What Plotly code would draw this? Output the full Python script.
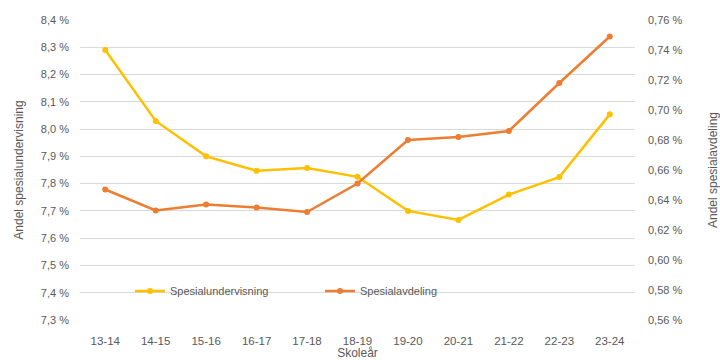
import plotly.graph_objects as go

categories = ["13-14", "14-15", "15-16", "16-17", "17-18", "18-19", "19-20", "20-21", "21-22", "22-23", "23-24"]
spesialundervisning = [8.29, 8.03, 7.90, 7.847, 7.857, 7.825, 7.70, 7.667, 7.76, 7.824, 8.054]
spesialavdeling = [0.647, 0.633, 0.637, 0.635, 0.632, 0.651, 0.680, 0.682, 0.686, 0.718, 0.749]

YELLOW = "#FFC000"
ORANGE = "#ED7D31"
GRAY = "#595959"
FONT = "Liberation Sans"

fig = go.Figure()
fig.add_trace(go.Scatter(x=categories, y=spesialundervisning, name="Spesialundervisning",
                         mode="lines+markers", line=dict(color=YELLOW, width=2.5),
                         marker=dict(color=YELLOW, size=6), yaxis="y"))
fig.add_trace(go.Scatter(x=categories, y=spesialavdeling, name="Spesialavdeling",
                         mode="lines+markers", line=dict(color=ORANGE, width=2.5),
                         marker=dict(color=ORANGE, size=6), yaxis="y2"))

fig.update_layout(
    width=720, height=360,
    margin=dict(l=80, r=85, t=20, b=40),
    paper_bgcolor="white", plot_bgcolor="white",
    separators=", ",
    font=dict(family=FONT, size=11, color=GRAY),
    showlegend=True,
    legend=dict(orientation="h", x=0.09, y=0.097, xanchor="left", yanchor="middle",
                bgcolor="rgba(0,0,0,0)", font=dict(size=11, color=GRAY),
                entrywidth=145, entrywidthmode="pixels"),
    xaxis=dict(type="category", range=[-0.5, 10.5], showgrid=False, zeroline=False,
               showline=False, ticks="", tickfont=dict(size=11.5, color=GRAY),
               ticklabelstandoff=12, automargin=False,
               title=dict(text="Skoleår", font=dict(size=12, color=GRAY), standoff=0)),
    yaxis=dict(range=[7.3, 8.4], dtick=0.1, tick0=7.3, tickformat=".1f", ticksuffix=" %",
               showgrid=True, gridcolor="#d9d9d9", gridwidth=1, zeroline=False,
               showline=False, ticks="", tickfont=dict(size=11, color=GRAY),
               ticklabelstandoff=10, automargin=False,
               title=dict(text="Andel spesialundervisning", font=dict(size=12, color=GRAY), standoff=14)),
    yaxis2=dict(range=[0.56, 0.76], dtick=0.02, tick0=0.56, tickformat=".2f", ticksuffix=" %",
                overlaying="y", side="right", showgrid=False, zeroline=False,
                showline=False, ticks="", tickfont=dict(size=11, color=GRAY),
                ticklabelstandoff=12, automargin=False,
                title=dict(text="Andel spesialavdeling", font=dict(size=12, color=GRAY), standoff=34)),
)

fig.write_html("out.html")
